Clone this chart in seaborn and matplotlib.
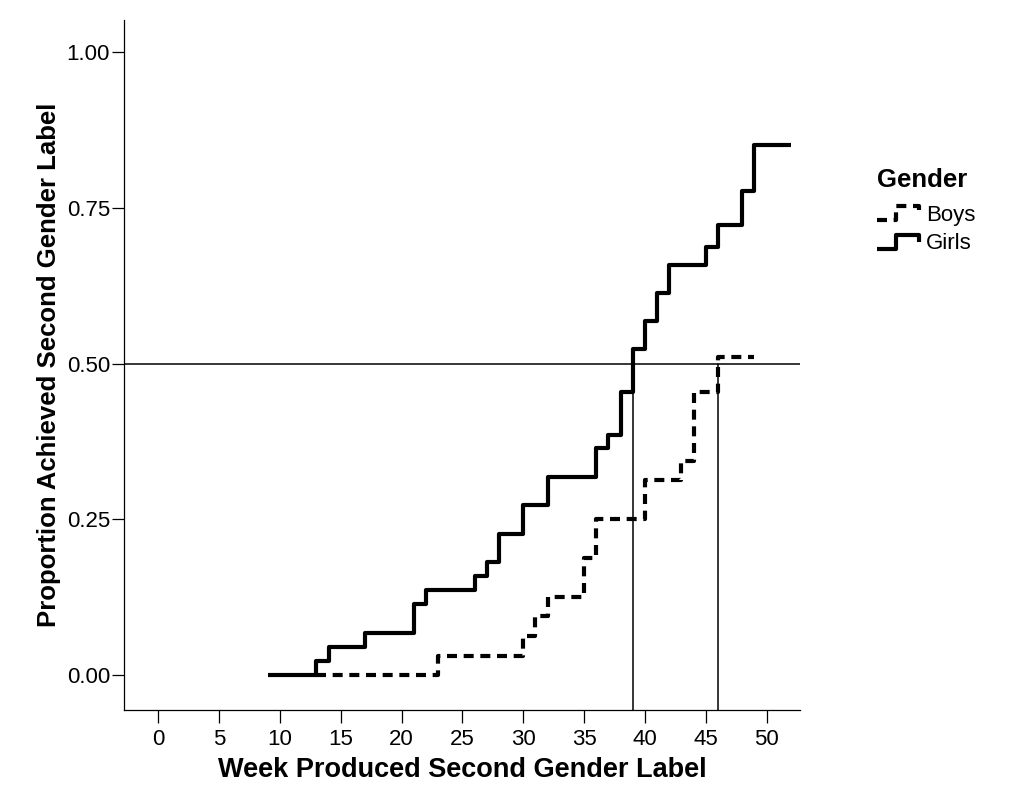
import numpy as np
import pandas as pd
import seaborn as sns
import matplotlib
matplotlib.use("Agg")
import matplotlib.pyplot as plt
from matplotlib.lines import Line2D
from matplotlib.legend_handler import HandlerBase

# step points (week, proportion)
girls_weeks = [9, 13, 14, 17, 21, 22, 26, 27, 28, 30, 32, 36, 37, 38, 39, 40, 41, 42, 45, 46, 48, 49, 52]
girls_prop = [0.0, 0.022, 0.045, 0.068, 0.114, 0.136, 0.159, 0.182, 0.227, 0.273, 0.318, 0.364,
              0.386, 0.455, 0.523, 0.568, 0.614, 0.659, 0.688, 0.722, 0.778, 0.852, 0.852]
boys_weeks = [13, 23, 30, 31, 32, 35, 36, 40, 43, 44, 46, 49]
boys_prop = [0.0, 0.031, 0.0625, 0.094, 0.125, 0.1875, 0.25, 0.3125, 0.344, 0.455, 0.51, 0.51]

median_weeks = [39, 46]
median_level = 0.5
x_ticks = [0, 5, 10, 15, 20, 25, 30, 35, 40, 45, 50]
y_ticks = [0.0, 0.25, 0.5, 0.75, 1.0]

BOYS_DASH = (2.4, 1.6)


class StepHandler(HandlerBase):
    # legend handle drawn as a small step
    def create_artists(self, legend, orig_handle, xdescent, ydescent, width, height, fontsize, trans):
        fx = [0, 0.45, 0.45, 1.0, 1.0]
        fy = [0.05, 0.05, 0.95, 0.95, 0.45]
        x = [-xdescent + f * width for f in fx]
        y = [-ydescent + f * height for f in fy]
        line = Line2D(x, y)
        line.update_from(orig_handle)
        line.set_data(x, y)
        line.set_transform(trans)
        return [line]


df = pd.concat([
    pd.DataFrame({"week": boys_weeks, "prop": boys_prop, "Gender": "Boys"}),
    pd.DataFrame({"week": girls_weeks, "prop": girls_prop, "Gender": "Girls"}),
], ignore_index=True)

sns.set_style("ticks")
plt.rcParams["font.family"] = ["Liberation Sans", "DejaVu Sans"]
plt.rcParams["text.color"] = "black"
plt.rcParams["axes.labelcolor"] = "black"
plt.rcParams["xtick.color"] = "black"
plt.rcParams["ytick.color"] = "black"

fig = plt.figure(figsize=(10.11, 7.89), dpi=100)
ax = fig.add_axes([124 / 1011, 1 - 710 / 789, (800 - 124) / 1011, (710 - 20) / 789])

sns.lineplot(
    data=df, x="week", y="prop", hue="Gender", style="Gender",
    palette={"Boys": "black", "Girls": "black"},
    dashes={"Boys": BOYS_DASH, "Girls": ""},
    drawstyle="steps-post", linewidth=3.0, legend=False, ax=ax,
    solid_capstyle="butt", dash_capstyle="butt",
)

# median reference lines
ax.axhline(median_level, color="black", linewidth=1.1, zorder=1)
for w in median_weeks:
    ax.plot([w, w], [-0.0562, median_level], color="black", linewidth=1.1, zorder=1)

ax.set_xlim(-2.81, 52.74)
ax.set_ylim(-0.0562, 1.052)
ax.set_xticks(x_ticks)
ax.set_yticks(y_ticks)
ax.set_yticklabels([f"{v:.2f}" for v in y_ticks])
ax.tick_params(axis="both", labelsize=16, length=9, width=0.9, color="black", labelcolor="black")
ax.tick_params(axis="x", pad=5)
ax.tick_params(axis="y", pad=1)
sns.despine(ax=ax)
for s in ("left", "bottom"):
    ax.spines[s].set_linewidth(0.9)
    ax.spines[s].set_color("black")

ax.set_xlabel("Week Produced Second Gender Label", fontsize=19.5, fontweight="bold", labelpad=5)
ax.set_ylabel("Proportion Achieved Second Gender Label", fontsize=18.5, fontweight="bold", labelpad=4)

handles = [
    Line2D([], [], color="black", linewidth=3.0, dashes=BOYS_DASH, dash_capstyle="butt"),
    Line2D([], [], color="black", linewidth=3.0, solid_capstyle="butt"),
]
leg = fig.legend(
    handles, ["Boys", "Girls"], title="Gender",
    loc="upper left", bbox_to_anchor=(857 / 1011, 1 - 148 / 789),
    frameon=False, fontsize=16, handlelength=1.9, handletextpad=0.3,
    labelspacing=0.35, alignment="left",
    handler_map={Line2D: StepHandler()},
)
leg.get_title().set_fontsize(18.5)
leg.get_title().set_fontweight("bold")
leg._legend_box.sep = 9

fig.savefig("out.png", dpi=100)
